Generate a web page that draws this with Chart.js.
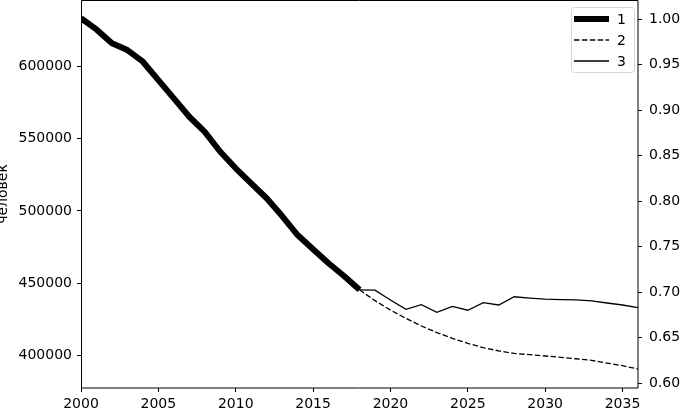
<!DOCTYPE html>
<html>
<head>
<meta charset="utf-8">
<script src="https://cdn.jsdelivr.net/npm/chart.js@4/dist/chart.umd.min.js"></script>
<style>
  html, body { margin: 0; padding: 0; background: #fff; }
  #wrap { width: 680px; height: 409px; }
</style>
</head>
<body>
<div id="wrap"><canvas id="popChart" width="680" height="409"></canvas></div>
<script>
// Data
const factYears = [2000, 2001, 2002, 2003, 2004, 2005, 2006, 2007, 2008, 2009,
                   2010, 2011, 2012, 2013, 2014, 2015, 2016, 2017, 2018];
const factValues = [633000, 625300, 615700, 611000, 603000, 590300, 577700, 565000, 554600, 540800,
                    529400, 519000, 508700, 496400, 483300, 473500, 463800, 455000, 445500];

const forecastYears = [2018, 2019, 2020, 2021, 2022, 2023, 2024, 2025, 2026, 2027,
                       2028, 2029, 2030, 2031, 2032, 2033, 2034, 2035, 2036];
const forecast2 = [445500, 438000, 431500, 425800, 420500, 416000, 412000, 408500, 405600, 403300,
                   401600, 400700, 399800, 398900, 397900, 396800, 394900, 393100, 390800];
const forecast3 = [445500, 445300, 438500, 432000, 435200, 430000, 434100, 431400, 436600, 435000,
                   440700, 439800, 439100, 438700, 438500, 437800, 436400, 435000, 433200];

const seriesLabels = ["1", "2", "3"];
const yearTicks = [2000, 2005, 2010, 2015, 2020, 2025, 2030, 2035];
const peopleTicks = [400000, 450000, 500000, 550000, 600000];
const ratioTicks = [0.60, 0.65, 0.70, 0.75, 0.80, 0.85, 0.90, 0.95, 1.00];

const toPoints = (xs, ys) => xs.map((x, i) => ({ x: x, y: ys[i] }));
const FONT = { family: "'DejaVu Sans', sans-serif", size: 14 };

// Frame like matplotlib spines
const framePlugin = {
  id: "frame",
  afterDatasetsDraw(chart) {
    const { ctx, chartArea: a } = chart;
    ctx.save();
    ctx.strokeStyle = "#000";
    ctx.lineWidth = 1;
    ctx.beginPath();
    ctx.moveTo(a.left + 0.5, a.bottom);
    ctx.lineTo(a.left + 0.5, a.top + 0.5);
    ctx.lineTo(a.right, a.top + 0.5);
    ctx.lineTo(a.right, a.bottom);
    ctx.lineTo(a.left, a.bottom);
    ctx.stroke();
    ctx.restore();
  }
};

// Legend box in the upper right corner, styles taken from the datasets
const legendPlugin = {
  id: "boxLegend",
  afterDraw(chart) {
    const { ctx, chartArea: a } = chart;
    const sets = chart.data.datasets;
    const bx = a.right - 67, by = a.top + 7, bw = 63, bh = 65;
    ctx.save();
    ctx.beginPath();
    ctx.roundRect(bx + 0.5, by + 0.5, bw, bh, 3);
    ctx.fillStyle = "rgba(255,255,255,0.8)";
    ctx.fill();
    ctx.strokeStyle = "#d6d6d6";
    ctx.lineWidth = 1;
    ctx.stroke();
    ctx.font = "14px 'DejaVu Sans', sans-serif";
    ctx.textBaseline = "middle";
    ctx.textAlign = "left";
    sets.forEach((ds, i) => {
      const y = by + 12 + i * 21;
      ctx.beginPath();
      ctx.setLineDash(ds.borderDash || []);
      ctx.lineWidth = ds.borderWidth;
      ctx.strokeStyle = ds.borderColor;
      ctx.moveTo(bx + 3, y);
      ctx.lineTo(bx + 38, y);
      ctx.stroke();
      ctx.setLineDash([]);
      ctx.fillStyle = "#000";
      ctx.fillText(ds.label, bx + 46, y + 1);
    });
    ctx.restore();
  }
};

const fixTicks = (list) => (scale) => { scale.ticks = list.map(v => ({ value: v })); };

new Chart(document.getElementById("popChart"), {
  type: "line",
  data: {
    datasets: [
      {
        label: seriesLabels[0],
        data: toPoints(factYears, factValues),
        borderColor: "#000",
        borderWidth: 6,
        pointRadius: 0,
        tension: 0,
        borderJoinStyle: "round",
        yAxisID: "y"
      },
      {
        label: seriesLabels[1],
        data: toPoints(forecastYears, forecast2),
        borderColor: "#000",
        borderWidth: 1.3,
        borderDash: [5.5, 2.4],
        pointRadius: 0,
        tension: 0,
        yAxisID: "y"
      },
      {
        label: seriesLabels[2],
        data: toPoints(forecastYears, forecast3),
        borderColor: "#000",
        borderWidth: 1.3,
        pointRadius: 0,
        tension: 0,
        yAxisID: "y"
      }
    ]
  },
  options: {
    responsive: false,
    animation: false,
    layout: { padding: 0 },
    plugins: {
      legend: { display: false },
      tooltip: { enabled: false }
    },
    scales: {
      x: {
        type: "linear",
        min: 2000,
        max: 2036,
        afterBuildTicks: fixTicks(yearTicks),
        afterFit: (s) => { s.height = 21; s.paddingLeft = 0; s.paddingRight = 0; },
        grid: { drawOnChartArea: false, tickLength: 4, tickColor: "#000" },
        border: { display: false },
        ticks: { color: "#000", font: FONT, padding: 4, maxRotation: 0, autoSkip: false,
                 callback: (v) => String(v) }
      },
      y: {
        type: "linear",
        position: "left",
        min: 377700,
        max: 645600,
        afterBuildTicks: fixTicks(peopleTicks),
        afterFit: (s) => { s.width = 81; s.paddingTop = 0; s.paddingBottom = 0; },
        grid: { drawOnChartArea: false, tickLength: 4, tickColor: "#000" },
        border: { display: false },
        ticks: { color: "#000", font: FONT, padding: 5, callback: (v) => String(v) },
        title: { display: true, text: "человек", color: "#000", font: FONT, padding: { top: -5, bottom: 0 } }
      },
      y1: {
        type: "linear",
        position: "right",
        min: 0.5948,
        max: 1.021,
        afterBuildTicks: fixTicks(ratioTicks),
        afterFit: (s) => { s.width = 42; s.paddingTop = 0; s.paddingBottom = 0; },
        grid: { drawOnChartArea: false, tickLength: 4, tickColor: "#000" },
        border: { display: false },
        ticks: { color: "#000", font: FONT, padding: 7, callback: (v) => v.toFixed(2) }
      }
    }
  },
  plugins: [framePlugin, legendPlugin]
});
</script>
</body>
</html>
